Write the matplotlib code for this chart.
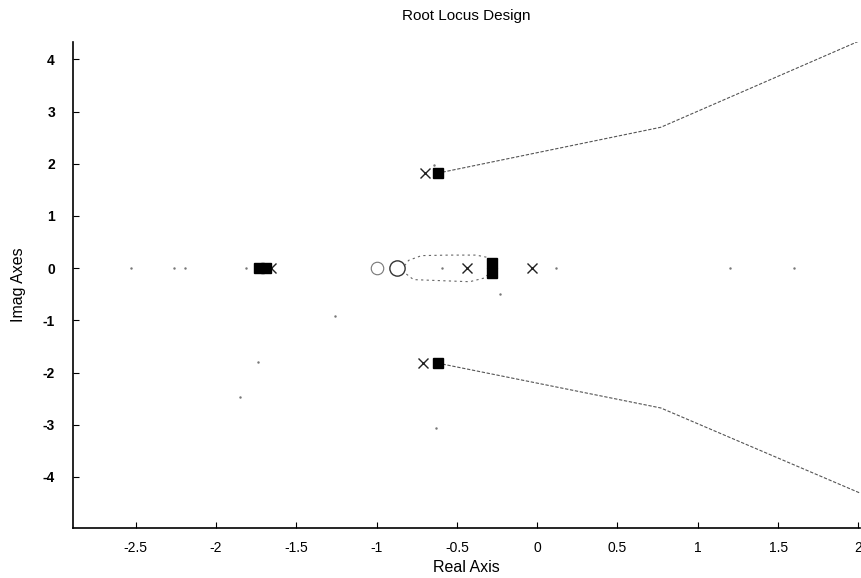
import matplotlib
matplotlib.use("Agg")
import matplotlib.pyplot as plt
import numpy as np

plt.rcParams['font.family'] = ['Liberation Sans', 'DejaVu Sans']

# ---- data ----
title = "Root Locus Design"
xlabel = "Real Axis"
ylabel = "Imag Axes"
xticks = [-2.5, -2, -1.5, -1, -0.5, 0, 0.5, 1, 1.5, 2]
yticks = [-4, -3, -2, -1, 0, 1, 2, 3, 4]

# open-loop poles (x markers)
pole_re = [-0.70, -0.71, -1.66, -0.44, -0.03]
pole_im = [1.83, -1.82, 0.0, 0.0, 0.0]
# open-loop zeros (o markers)
zero_re = [-1.00, -0.87]
zero_im = [0.0, 0.0]
# closed-loop poles (filled squares)
cl_re = [-0.62, -0.62, -1.73, -1.69, -0.28, -0.28]
cl_im = [1.82, -1.82, 0.0, 0.0, 0.10, -0.10]

# complex branches
upper_re = [-0.62, 0.77, 2.01]
upper_im = [1.82, 2.70, 4.36]
lower_re = [-0.62, 0.77, 2.01]
lower_im = [-1.82, -2.68, -4.31]

# small loop near the real axis
loop_up_re = [-0.28, -0.30, -0.38, -0.55, -0.72, -0.80, -0.83]
loop_up_im = [0.05, 0.20, 0.25, 0.25, 0.24, 0.15, 0.03]
loop_lo_re = [-0.28, -0.33, -0.42, -0.60, -0.77, -0.82]
loop_lo_im = [-0.05, -0.19, -0.26, -0.24, -0.22, -0.10]

# sparse locus dots
dot_re = [-2.53, -2.26, -2.19, -1.81, 1.20, 1.60, -1.26, -1.74, -1.85, -0.63, -0.23, -0.64, -0.59, 0.12]
dot_im = [0.0, 0.0, 0.0, 0.0, 0.0, 0.0, -0.92, -1.80, -2.47, -3.07, -0.50, 1.97, 0.0, 0.0]

fig = plt.figure(figsize=(8.62, 5.78), dpi=100)
ax = fig.add_axes([0.0847, 0.0865, 0.9130, 0.8405])

lc = '#555555'
ax.plot(upper_re, upper_im, color=lc, lw=0.8, ls=(0, (3, 1.5)))
ax.plot(lower_re, lower_im, color=lc, lw=0.8, ls=(0, (3, 1.5)))
ax.plot(loop_up_re, loop_up_im, color='#666666', lw=0.8, ls=(0, (2, 3)))
ax.plot(loop_lo_re, loop_lo_im, color='#666666', lw=0.8, ls=(0, (2, 3)))

ax.plot(dot_re, dot_im, ls='none', marker='.', ms=1.5, color='#777777')

ax.plot(zero_re[:1], zero_im[:1], ls='none', marker='o', ms=9, mfc='none', mec='#777777', mew=0.8)
ax.plot(zero_re[1:], zero_im[1:], ls='none', marker='o', ms=11, mfc='none', mec='#333333', mew=1.0)
ax.plot(pole_re, pole_im, ls='none', marker='x', ms=6.5, color='#222222', mew=1.0)
ax.plot(cl_re, cl_im, ls='none', marker='s', ms=7.5, color='black')

ax.set_xlim(-2.89, 2.01)
ax.set_ylim(-4.98, 4.33)
ax.set_xticks(xticks)
ax.set_xticklabels(['-2.5', '-2', '-1.5', '-1', '-0.5', '0', '0.5', '1', '1.5', '2'])
ax.set_yticks(yticks)
ax.set_yticklabels([str(t) for t in yticks])

for s in ['top', 'right']:
    ax.spines[s].set_visible(False)
for s in ['left', 'bottom']:
    ax.spines[s].set_linewidth(1.2)
    ax.spines[s].set_color('black')

ax.tick_params(axis='both', direction='in', length=4, width=0.8, labelsize=10)
ax.tick_params(axis='y', pad=13)
ax.tick_params(axis='x', pad=9)
for lab in ax.get_yticklabels():
    lab.set_fontweight('bold')

ax.set_title(title, fontsize=11, pad=16)
ax.set_xlabel(xlabel, fontsize=11.5, labelpad=4)
ax.set_ylabel(ylabel, fontsize=11.5, labelpad=12)

fig.savefig("out.png", dpi=100)
